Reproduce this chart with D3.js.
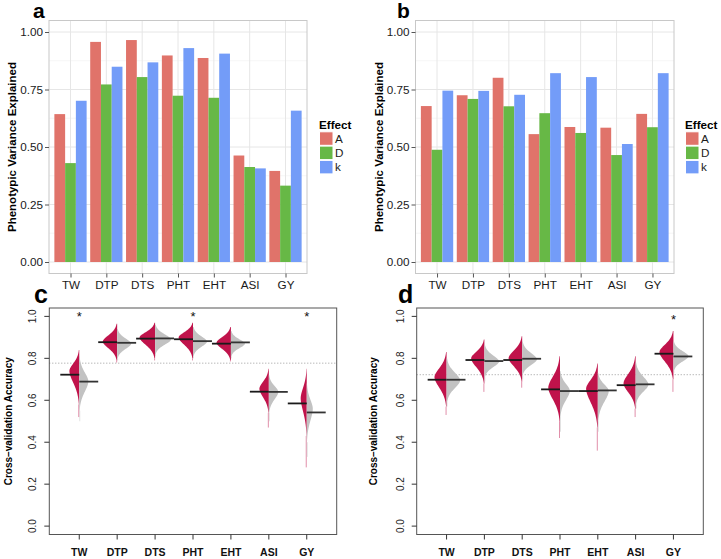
<!DOCTYPE html>
<html><head><meta charset="utf-8">
<script src="https://cdn.jsdelivr.net/npm/d3@7"></script>
<style>body{margin:0;background:#fff}svg{display:block;font-family:"Liberation Sans",Arial,Helvetica,sans-serif}</style>
</head><body><svg id="chart" width="721" height="559"></svg>
<script>
// ---------------- data ----------------
const cats = ["TW","DTP","DTS","PHT","EHT","ASI","GY"];
const effects = ["A","D","k"];
const yTicksBar = [0, 0.25, 0.5, 0.75, 1.0];
const yTicksCV = [0, 0.2, 0.4, 0.6, 0.8, 1.0];

// panel a: phenotypic variance explained
const aA = [0.643, 0.957, 0.965, 0.898, 0.887, 0.463, 0.396];
const aD = [0.430, 0.772, 0.804, 0.723, 0.714, 0.413, 0.332];
const aK = [0.701, 0.849, 0.868, 0.930, 0.906, 0.407, 0.658];
// panel b
const bA = [0.678, 0.725, 0.801, 0.556, 0.587, 0.584, 0.644];
const bD = [0.488, 0.709, 0.677, 0.647, 0.561, 0.465, 0.586];
const bK = [0.745, 0.744, 0.727, 0.821, 0.804, 0.513, 0.821];

// panels c/d: split beans, each row =
// [mean, mode, upper extent, lower body extent, lower tail end, peak half-width (category units)]
const cLeft = [
  [0.722, 0.740, 0.840, 0.580, 0.520, 0.26],
  [0.877, 0.880, 0.965, 0.790, 0.780, 0.38],
  [0.894, 0.900, 0.970, 0.800, 0.790, 0.41],
  [0.891, 0.900, 0.970, 0.800, 0.790, 0.38],
  [0.870, 0.875, 0.950, 0.790, 0.785, 0.38],
  [0.641, 0.655, 0.750, 0.540, 0.470, 0.25],
  [0.585, 0.610, 0.750, 0.430, 0.280, 0.16]
];
const cRight = [
  [0.689, 0.690, 0.810, 0.550, 0.500, 0.24],
  [0.874, 0.870, 0.940, 0.800, 0.790, 0.37],
  [0.895, 0.890, 0.960, 0.820, 0.810, 0.42],
  [0.882, 0.880, 0.950, 0.810, 0.800, 0.37],
  [0.876, 0.870, 0.930, 0.810, 0.800, 0.37],
  [0.640, 0.640, 0.720, 0.540, 0.500, 0.25],
  [0.542, 0.560, 0.680, 0.400, 0.330, 0.16]
];
const dLeft = [
  [0.698, 0.710, 0.830, 0.570, 0.530, 0.32],
  [0.792, 0.800, 0.890, 0.680, 0.640, 0.35],
  [0.792, 0.800, 0.905, 0.690, 0.660, 0.36],
  [0.652, 0.660, 0.810, 0.500, 0.420, 0.31],
  [0.644, 0.655, 0.775, 0.470, 0.360, 0.31],
  [0.672, 0.680, 0.810, 0.560, 0.520, 0.32],
  [0.822, 0.830, 0.930, 0.700, 0.640, 0.37]
];
const dRight = [
  [0.698, 0.695, 0.800, 0.590, 0.570, 0.36],
  [0.787, 0.785, 0.865, 0.710, 0.690, 0.39],
  [0.798, 0.795, 0.880, 0.720, 0.700, 0.39],
  [0.644, 0.645, 0.740, 0.520, 0.450, 0.26],
  [0.647, 0.645, 0.730, 0.500, 0.450, 0.29],
  [0.676, 0.675, 0.780, 0.580, 0.560, 0.34],
  [0.809, 0.810, 0.880, 0.740, 0.730, 0.40]
];
const cStars = ["TW","PHT","GY"];
const dStars = ["GY"];
const cRefLine = 0.777;
const dRefLine = 0.722;

// ---------------- drawing ----------------
const svg = d3.select("#chart");
svg.append("rect").attr("width",721).attr("height",559).attr("fill","#fff");
const FONT = '"Liberation Sans",Arial,Helvetica,sans-serif';
const effColor = d3.scaleOrdinal().domain(effects).range(["#E0736A","#67B846","#739CF8"]);

function barPanel(o) {
  const g = svg.append("g");
  const y = d3.scaleLinear().domain([-0.05, 1.05]).range([o.bottom, o.top]);
  const x = d3.scalePoint().domain(cats).range([o.left, o.right]).padding(0.6);
  const step = x.step();
  const xe = d3.scaleBand().domain(effects).range([-0.45*step, 0.45*step]);
  g.selectAll(".minor").data([0.125,0.375,0.625,0.875]).join("line")
    .attr("x1",o.left).attr("x2",o.right).attr("y1",d=>y(d)).attr("y2",d=>y(d))
    .attr("stroke","#f0f0f0").attr("stroke-width",0.6);
  g.selectAll(".majy").data(yTicksBar).join("line")
    .attr("x1",o.left).attr("x2",o.right).attr("y1",d=>y(d)).attr("y2",d=>y(d))
    .attr("stroke","#e6e6e6").attr("stroke-width",1);
  g.selectAll(".majx").data(cats).join("line")
    .attr("x1",d=>x(d)).attr("x2",d=>x(d)).attr("y1",o.top).attr("y2",o.bottom)
    .attr("stroke","#e6e6e6").attr("stroke-width",1);
  const rows = [];
  cats.forEach((c,i)=>effects.forEach((e,j)=>rows.push({c, e, v: o.series[j][i]})));
  g.selectAll(".bar").data(rows).join("rect")
    .attr("x", d=>x(d.c)+xe(d.e)).attr("width", xe.bandwidth())
    .attr("y", d=>y(d.v)).attr("height", d=>y(0)-y(d.v))
    .attr("fill", d=>effColor(d.e));
  g.append("rect").attr("x",o.left).attr("y",o.top).attr("width",o.right-o.left).attr("height",o.bottom-o.top)
    .attr("fill","none").attr("stroke","#c8c8c8").attr("stroke-width",1);
  const ya = d3.axisLeft(y).tickValues(yTicksBar).tickFormat(d3.format(".2f")).tickSize(4).tickPadding(2);
  const yg = g.append("g").attr("transform",`translate(${o.left},0)`).call(ya);
  yg.select(".domain").remove();
  yg.selectAll("line").attr("stroke","#555");
  yg.selectAll("text").attr("font-size","11.7px").attr("fill","#1a1a1a").attr("font-family",FONT);
  const xa = d3.axisBottom(x).tickSize(4).tickPadding(3);
  const xg = g.append("g").attr("transform",`translate(0,${o.bottom})`).call(xa);
  xg.select(".domain").remove();
  xg.selectAll("line").attr("stroke","#555");
  xg.selectAll("text").attr("font-size","11.7px").attr("fill","#1a1a1a").attr("font-family",FONT);
  g.append("text").attr("transform",`translate(${o.titleX},${(y(0)+y(1))/2}) rotate(-90)`)
    .attr("text-anchor","middle").attr("font-size","11.5px").attr("font-weight","bold")
    .attr("font-family",FONT).text("Phenotypic Variance Explained");
  g.append("text").attr("x",o.letterX).attr("y",18).attr("font-size","21px").attr("font-weight","bold")
    .attr("font-family",FONT).text(o.letter);
  const lg = g.append("g").attr("transform",`translate(${o.legendX},118)`);
  lg.append("text").attr("x",0).attr("y",10.5).attr("font-size","11.7px").attr("font-weight","bold")
    .attr("font-family",FONT).text("Effect");
  effects.forEach((e,i)=>{
    lg.append("rect").attr("x",0.5).attr("y",13.8+i*14.3).attr("width",13.5).attr("height",13.5)
      .attr("fill",effColor(e)).attr("stroke","#fff").attr("stroke-width",1);
    lg.append("text").attr("x",16).attr("y",13.8+i*14.3+11).attr("font-size","11.7px")
      .attr("font-family",FONT).attr("fill","#1a1a1a").text(e);
  });
}

barPanel({left:49, right:307, top:20.5, bottom:273.5, series:[aA,aD,aK], letter:"a", letterX:33, titleX:16, legendX:319});
barPanel({left:415.5, right:674, top:20.5, bottom:273.5, series:[bA,bD,bK], letter:"b", letterX:397, titleX:383, legendX:685});

function profile(row) {
  const [mean, mode, top, bottom, tail, peak] = row;
  const p = 1.8, n = 90, k = Math.pow(Math.log(25), 1/p);
  const su = (top-mode)/k, sl = (mode-bottom)/k;
  const pts = [];
  for (let i=0;i<=n;i++) {
    const v = bottom + (top-bottom)*i/n;
    const dd = v - mode;
    const s = dd >= 0 ? su : sl;
    pts.push({v, w: peak*Math.exp(-Math.pow(Math.abs(dd)/s, p))});
  }
  return pts;
}

function beanPanel(o) {
  const g = svg.append("g");
  const y = d3.scaleLinear().domain([-0.04, 1.04]).range([o.bottom, o.top]);
  const x = d3.scaleLinear().domain([0.21, 7.79]).range([o.left, o.right]);
  const pos = c => cats.indexOf(c) + 1;
  g.append("line").attr("x1",o.left).attr("x2",o.right).attr("y1",y(o.ref)).attr("y2",y(o.ref))
    .attr("stroke","#9a9a9a").attr("stroke-width",1).attr("stroke-dasharray","1,2");
  const sides = [[o.left_, -1, "#C0134B"], [o.right_, 1, "#C2C2C2"]];
  cats.forEach((c,i)=>{
    const pc = i+1;
    sides.forEach(([arr, sgn, col])=>{
      const row = arr[i];
      g.append("line").attr("x1",x(pc)+sgn*0.5).attr("x2",x(pc)+sgn*0.5)
        .attr("y1",y(row[3])).attr("y2",y(row[4])).attr("stroke",col)
        .attr("stroke-width",0.8).attr("stroke-opacity",0.6);
      g.append("path").datum(profile(row)).attr("fill",col)
        .attr("d", d3.area().curve(d3.curveBasis).y(d=>y(d.v)).x0(x(pc)).x1(d=>x(pc + sgn*d.w)));
    });
  });
  cats.forEach((c,i)=>{
    const pc = i+1;
    g.append("line").attr("x1",x(pc-0.5)).attr("x2",x(pc)).attr("y1",y(o.left_[i][0])).attr("y2",y(o.left_[i][0]))
      .attr("stroke","#1a1a1a").attr("stroke-width",1.8);
    g.append("line").attr("x1",x(pc)).attr("x2",x(pc+0.5)).attr("y1",y(o.right_[i][0])).attr("y2",y(o.right_[i][0]))
      .attr("stroke","#333").attr("stroke-width",1.8);
  });
  g.selectAll(".star").data(o.stars).join("text")
    .attr("x",d=>x(pos(d))).attr("y",o.starY).attr("text-anchor","middle")
    .attr("font-size","13px").attr("font-family",FONT).attr("fill","#111").text("*");
  g.append("rect").attr("x",o.left).attr("y",o.top).attr("width",o.right-o.left).attr("height",o.bottom-o.top)
    .attr("fill","none").attr("stroke","#555").attr("stroke-width",1);
  g.selectAll(".yt").data(yTicksCV).join("line")
    .attr("x1",o.left-5).attr("x2",o.left).attr("y1",d=>y(d)).attr("y2",d=>y(d)).attr("stroke","#333");
  g.selectAll(".yl").data(yTicksCV).join("text")
    .attr("transform",d=>`translate(${o.left-13},${y(d)}) rotate(-90)`).attr("text-anchor","middle")
    .attr("font-size","10px").attr("font-family",FONT).attr("fill","#222").text(d=>d3.format(".1f")(d));
  g.selectAll(".xt").data(cats).join("line")
    .attr("x1",d=>x(pos(d))).attr("x2",d=>x(pos(d))).attr("y1",o.bottom).attr("y2",o.bottom+5).attr("stroke","#333");
  g.selectAll(".xl").data(cats).join("text")
    .attr("x",d=>x(pos(d))).attr("y",556).attr("text-anchor","middle")
    .attr("font-size","10.5px").attr("font-weight","bold").attr("font-family",FONT).attr("fill","#111").text(d=>d);
  g.append("text").attr("transform",`translate(${o.titleX},${(y(0)+y(1))/2}) rotate(-90)`)
    .attr("text-anchor","middle").attr("font-size","10px").attr("font-weight","bold")
    .attr("font-family",FONT).text("Cross\u2013validation Accuracy");
  g.append("text").attr("x",o.letterX).attr("y",303).attr("font-size","25px").attr("font-weight","bold")
    .attr("font-family",FONT).text(o.letter);
}

beanPanel({left:49.3, right:336.7, top:308, bottom:534.5, left_:cLeft, right_:cRight, stars:cStars, ref:cRefLine,
  starY:321, titleX:12, letterX:34, letter:"c"});
beanPanel({left:416.7, right:703.3, top:308, bottom:534.5, left_:dLeft, right_:dRight, stars:dStars, ref:dRefLine,
  starY:324, titleX:377, letterX:398, letter:"d"});
</script></body></html>
